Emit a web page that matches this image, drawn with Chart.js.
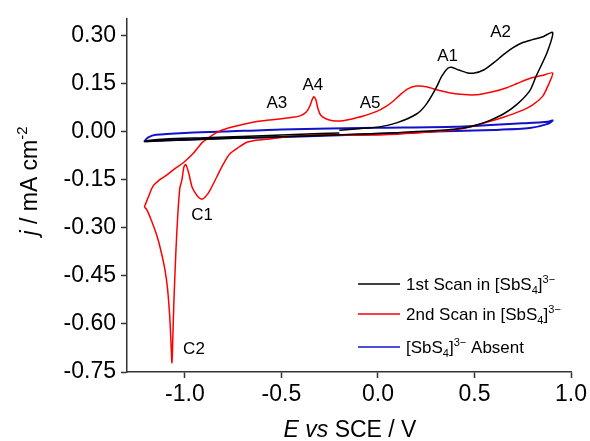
<!DOCTYPE html>
<html>
<head>
<meta charset="utf-8">
<script src="https://cdn.jsdelivr.net/npm/chart.js@4.4.1/dist/chart.umd.min.js"></script>
<style>
  html, body { margin: 0; padding: 0; background: #fff; }
  #wrap { width: 590px; height: 441px; position: relative; }
</style>
</head>
<body>
<div id="wrap"><canvas id="chart" width="590" height="441"></canvas></div>
<script>
// Cyclic voltammograms, j (mA cm-2) vs E (V vs SCE).

// 1st scan: starts at -0.2 V, goes positive to 0.9 V, back to -1.21 V, then up to -0.2 V.
const blackE = [-0.20, -0.10, 0.00, 0.10, 0.20, 0.25, 0.30, 0.33, 0.36, 0.38, 0.42, 0.46, 0.50, 0.55,
  0.60, 0.65, 0.70, 0.75, 0.80, 0.85, 0.905,
  0.875, 0.82, 0.786, 0.72, 0.65, 0.58, 0.52, 0.45, 0.35, 0.20, 0.00, -0.30, -0.60, -0.90, -1.10, -1.21,
  -1.18, -1.10, -0.90, -0.60, -0.40, -0.20];
const blackJ = [0.004, 0.009, 0.014, 0.028, 0.055, 0.085, 0.135, 0.172, 0.197, 0.201, 0.192, 0.184, 0.183, 0.193,
  0.215, 0.240, 0.262, 0.278, 0.287, 0.295, 0.309,
  0.245, 0.174, 0.127, 0.085, 0.055, 0.035, 0.022, 0.012, 0.005, 0.000, -0.006, -0.012, -0.018, -0.024, -0.028, -0.031,
  -0.027, -0.023, -0.019, -0.013, -0.008, -0.004];

// 2nd scan: from the negative vertex up to 0.9 V and back down through C1 and C2.
const redE = [-1.21, -1.19, -1.166, -1.13, -1.093, -1.05, -1.01, -0.96, -0.907, -0.86, -0.819, -0.75, -0.648,
  -0.55, -0.45, -0.40, -0.37, -0.353, -0.338, -0.332, -0.322, -0.31, -0.295, -0.27, -0.234, -0.18, -0.146,
  -0.08, -0.006, 0.04, 0.077, 0.12, 0.16, 0.20, 0.25, 0.32, 0.40, 0.51, 0.60, 0.667, 0.72, 0.786, 0.85, 0.905,
  0.88, 0.853, 0.80, 0.734, 0.65, 0.563, 0.48, 0.423, 0.30, 0.10, -0.10, -0.30, -0.45, -0.55, -0.62, -0.679,
  -0.72, -0.767, -0.80, -0.834, -0.87, -0.895, -0.912, -0.93, -0.95, -0.964, -0.98, -0.995, -1.005, -1.016,
  -1.026, -1.037, -1.047, -1.057, -1.063, -1.067, -1.072, -1.078, -1.09, -1.104, -1.125, -1.145, -1.175,
  -1.197, -1.21];
const redJ = [-0.235, -0.205, -0.171, -0.150, -0.135, -0.115, -0.098, -0.070, -0.032, -0.012, 0.002, 0.015, 0.029,
  0.037, 0.044, 0.050, 0.062, 0.080, 0.104, 0.109, 0.100, 0.070, 0.050, 0.040, 0.034, 0.034, 0.038,
  0.048, 0.063, 0.078, 0.094, 0.118, 0.135, 0.142, 0.140, 0.128, 0.118, 0.115, 0.125, 0.137, 0.150, 0.166, 0.175, 0.183,
  0.142, 0.110, 0.083, 0.063, 0.045, 0.029, 0.015, 0.008, 0.000, -0.008, -0.011, -0.010, -0.015, -0.022, -0.026, -0.033,
  -0.048, -0.069, -0.100, -0.140, -0.183, -0.204, -0.211, -0.205, -0.188, -0.171, -0.130, -0.103, -0.110, -0.152,
  -0.175, -0.260, -0.377, -0.530, -0.650, -0.721, -0.660, -0.583, -0.490, -0.429, -0.370, -0.325, -0.275,
  -0.244, -0.235];

// Blank electrolyte (no [SbS4]3-).
const blueE = [-1.21, -1.19, -1.15, -1.00, -0.80, -0.50, 0.00, 0.40, 0.75, 0.88, 0.905,
  0.88, 0.786, 0.60, 0.30, 0.00, -0.40, -0.80, -1.00, -1.21];
const blueJ = [-0.030, -0.018, -0.010, -0.004, 0.000, 0.007, 0.012, 0.015, 0.026, 0.031, 0.035,
  0.024, 0.011, 0.005, 0.000, -0.007, -0.015, -0.021, -0.025, -0.030];

const xTicks = [-1.0, -0.5, 0.0, 0.5, 1.0];
const yTicks = [-0.75, -0.60, -0.45, -0.30, -0.15, 0.00, 0.15, 0.30];

const peakNames = ["A1", "A2", "A3", "A4", "A5", "C1", "C2"];
const peakE = [0.361, 0.635, -0.524, -0.337, -0.041, -0.911, -0.953];
const peakJ = [0.235, 0.309, 0.088, 0.143, 0.088, -0.260, -0.680];

const legendLabels = ["1st Scan in ", "2nd Scan in ", ""];

const FONT = "'Liberation Sans', Arial, sans-serif";
const AXIS = "#333";

const toPoints = (xs, ys) => xs.map((x, i) => ({ x, y: ys[i] }));

// Draw a run of text parts: {t, it (italic), sub, sup} at a baseline.
function drawRich(ctx, parts, x, y, size, align) {
  const fontFor = (p) => {
    const s = p.sub || p.sup ? size * 0.65 : size;
    return (p.it ? "italic " : "") + s + "px " + FONT;
  };
  let total = 0;
  parts.forEach((p) => {
    ctx.font = fontFor(p);
    total += ctx.measureText(p.t).width;
  });
  let cx = align === "center" ? x - total / 2 : x;
  ctx.textAlign = "left";
  ctx.textBaseline = "alphabetic";
  parts.forEach((p) => {
    ctx.font = fontFor(p);
    const dy = p.sub ? size * 0.22 : p.sup ? -size * 0.42 : 0;
    ctx.fillText(p.t, cx, y + dy);
    cx += ctx.measureText(p.t).width;
  });
}

const ion = () => [{ t: "[SbS" }, { t: "4", sub: true }, { t: "]" }, { t: "3\u2212", sup: true }];

const annotate = {
  id: "annotate",
  afterDraw(chart) {
    const ctx = chart.ctx;
    const xs = chart.scales.x, ys = chart.scales.y;
    ctx.save();
    ctx.fillStyle = "#000";

    // peak labels
    ctx.font = "17px " + FONT;
    ctx.textAlign = "center";
    ctx.textBaseline = "middle";
    peakNames.forEach((n, i) => {
      ctx.fillText(n, xs.getPixelForValue(peakE[i]), ys.getPixelForValue(peakJ[i]));
    });

    // axis titles
    drawRich(ctx, [{ t: "E", it: true }, { t: " " }, { t: "vs", it: true }, { t: " SCE / V" }],
      350, 437, 23, "center");
    ctx.save();
    ctx.translate(37, 181);
    ctx.rotate(-Math.PI / 2);
    drawRich(ctx, [{ t: "j", it: true }, { t: " / mA cm" }, { t: "-2", sup: true }], 0, 0, 23, "center");
    ctx.restore();

    // legend
    const rows = [284, 314, 347];
    chart.data.datasets.forEach((ds, i) => {
      ctx.strokeStyle = ds.borderColor;
      ctx.lineWidth = 1.5;
      ctx.beginPath();
      ctx.moveTo(358, rows[i]);
      ctx.lineTo(400, rows[i]);
      ctx.stroke();
      const parts = i < 2 ? [{ t: legendLabels[i] }].concat(ion()) : ion().concat([{ t: " Absent" }]);
      drawRich(ctx, parts, 406, rows[i] + 6, 17, "left");
    });
    ctx.restore();
  },
};

const lineDs = (label, xs, ys, color, width) => ({
  label,
  data: toPoints(xs, ys),
  borderColor: color,
  borderWidth: width,
  pointRadius: 0,
  showLine: true,
  fill: false,
  tension: 0.25,
});

new Chart(document.getElementById("chart"), {
  type: "scatter",
  data: {
    datasets: [
      lineDs("1st Scan", blackE, blackJ, "#000000", 1.5),
      lineDs("2nd Scan", redE, redJ, "#ff0000", 1.5),
      lineDs("Absent", blueE, blueJ, "#1212c8", 2),
    ],
  },
  options: {
    responsive: false,
    animation: false,
    devicePixelRatio: 1,
    layout: { padding: { top: 13, right: 19, left: 0, bottom: 0 } },
    plugins: { legend: { display: false }, tooltip: { enabled: false } },
    scales: {
      x: {
        type: "linear",
        min: -1.3,
        max: 1.0,
        afterBuildTicks: (s) => (s.ticks = xTicks.map((v) => ({ value: v }))),
        afterFit: (s) => (s.height = 69),
        ticks: { color: "#000", font: { family: FONT, size: 23 }, padding: 3, callback: (v) => v.toFixed(1) },
        grid: { display: true, drawOnChartArea: false, drawTicks: true, tickLength: 6, tickWidth: 1.5, color: AXIS },
        border: { display: true, color: AXIS, width: 1.5 },
      },
      y: {
        type: "linear",
        min: -0.75,
        max: 0.352,
        afterBuildTicks: (s) => (s.ticks = yTicks.map((v) => ({ value: v }))),
        afterFit: (s) => (s.width = 127),
        ticks: { color: "#000", font: { family: FONT, size: 23 }, padding: 5, callback: (v) => v.toFixed(2) },
        grid: { display: true, drawOnChartArea: false, drawTicks: true, tickLength: 6, tickWidth: 1.5, color: AXIS },
        border: { display: true, color: AXIS, width: 1.5 },
      },
    },
  },
  plugins: [annotate],
});
</script>
</body>
</html>
